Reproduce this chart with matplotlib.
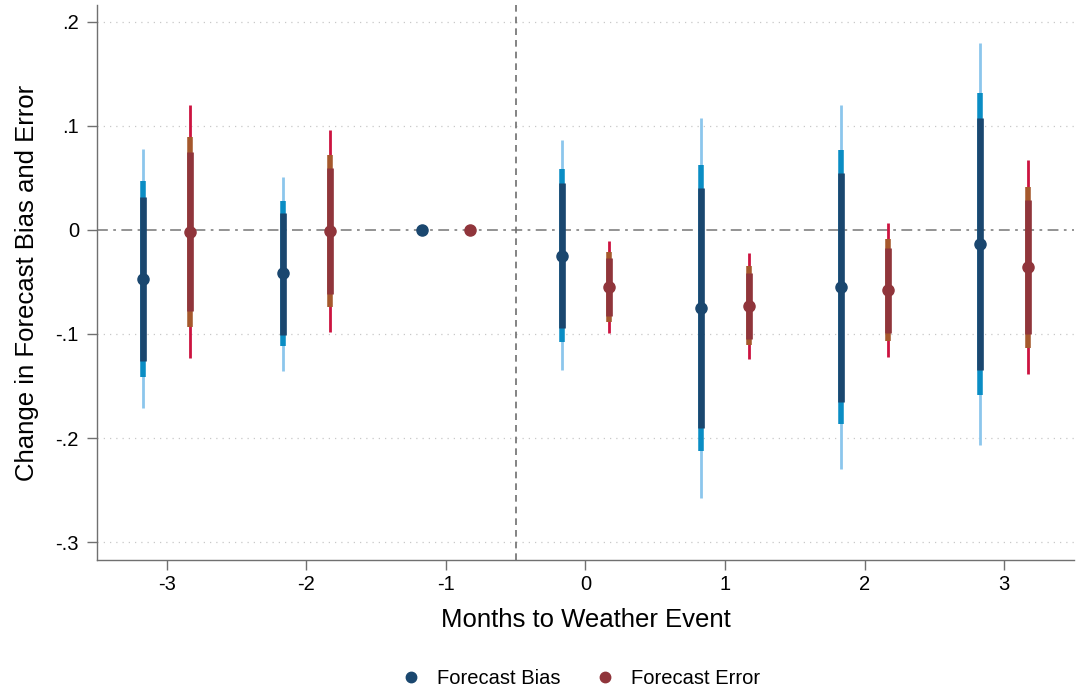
import matplotlib
matplotlib.use("Agg")
import matplotlib.pyplot as plt
from matplotlib.lines import Line2D
import numpy as np

plt.rcParams['font.family'] = ['Liberation Sans', 'DejaVu Sans']

# event time (months to weather event)
months = [-3, -2, -1, 0, 1, 2, 3]

# Forecast Bias: point estimate and 90 / 95 / 99 % bounds
bias_est = [-0.047, -0.0417, 0.0, -0.0247, -0.075, -0.0548, -0.0135]
bias_lo90 = [-0.1257, -0.1006, 0.0, -0.0946, -0.190, -0.165, -0.135]
bias_hi90 = [0.0314, 0.0167, 0.0, 0.0449, 0.040, 0.055, 0.1077]
bias_lo95 = [-0.141, -0.112, 0.0, -0.108, -0.2125, -0.187, -0.159]
bias_hi95 = [0.047, 0.0282, 0.0, 0.0587, 0.0625, 0.077, 0.132]
bias_lo99 = [-0.1715, -0.1356, 0.0, -0.135, -0.258, -0.230, -0.2067]
bias_hi99 = [0.0776, 0.0513, 0.0, 0.0865, 0.108, 0.120, 0.1795]

# Forecast Error
err_est = [-0.0016, -0.0006, 0.0, -0.0548, -0.073, -0.0577, -0.0356]
err_lo90 = [-0.078, -0.0619, 0.0, -0.0827, -0.105, -0.0987, -0.100]
err_hi90 = [0.075, 0.060, 0.0, -0.027, -0.041, -0.017, 0.0288]
err_lo95 = [-0.093, -0.0737, 0.0, -0.088, -0.111, -0.1064, -0.113]
err_hi95 = [0.0897, 0.072, 0.0, -0.0215, -0.0346, -0.0087, 0.0417]
err_lo99 = [-0.1234, -0.0978, 0.0, -0.0994, -0.1237, -0.1224, -0.138]
err_hi99 = [0.120, 0.096, 0.0, -0.0103, -0.0218, 0.007, 0.0673]

yticks = [0.2, 0.1, 0.0, -0.1, -0.2, -0.3]
ytick_labels = ['.2', '.1', '0', '-.1', '-.2', '-.3']

fig = plt.figure(figsize=(10.76, 6.92), dpi=100)
ax = fig.add_axes([0.0901, 0.19075, 0.908, 0.8020])

x = np.array(months, dtype=float)
off = 0.17

# reference lines
ax.axhline(0, color='#8a8a8a', lw=1.3, ls=(0, (6, 3, 1.5, 3)), zorder=1)
ax.axvline(-0.5, color='#6e6e6e', lw=1.2, ls=(0, (4, 3)), zorder=1)
for yv in [0.2, 0.1, -0.1, -0.2, -0.3]:
    ax.axhline(yv, color='#c8c8c8', lw=0.9, ls=(0, (1, 4)), zorder=0)

def draw(xs, est, lo90, hi90, lo95, hi95, lo99, hi99, c99, c95, c90):
    ax.vlines(xs, lo99, hi99, color=c99, lw=2.0, zorder=2)
    ax.vlines(xs, lo95, hi95, color=c95, lw=4.0, zorder=3)
    ax.vlines(xs, lo90, hi90, color=c90, lw=4.8, zorder=4)
    ax.plot(xs, est, 'o', color=c90, ms=8, zorder=5)

draw(x - off, bias_est, bias_lo90, bias_hi90, bias_lo95, bias_hi95,
     bias_lo99, bias_hi99, '#8cc6ec', '#0a8dc4', '#1a476f')
draw(x + off, err_est, err_lo90, err_hi90, err_lo95, err_hi95,
     err_lo99, err_hi99, '#cc1340', '#a5582c', '#90353b')

ax.set_xlim(-3.5, 3.5)
ax.set_ylim(-0.3173, 0.2163)
ax.set_xticks(months)
ax.set_xticklabels([str(m) for m in months])
ax.set_yticks(yticks)
ax.set_yticklabels(ytick_labels)

for s in ['top', 'right']:
    ax.spines[s].set_visible(False)
for s in ['left', 'bottom']:
    ax.spines[s].set_color('#707070')
    ax.spines[s].set_linewidth(1.0)
ax.tick_params(axis='both', colors='#707070', length=7, width=1.0,
               labelsize=14.5, labelcolor='black')
ax.tick_params(axis='x', pad=4)
ax.tick_params(axis='y', pad=6)

ax.set_xlabel('Months to Weather Event', fontsize=18.5, labelpad=10)
ax.set_ylabel('Change in Forecast Bias and Error', fontsize=18.5, labelpad=12)

handles = [Line2D([], [], marker='o', ls='none', color='#1a476f', ms=7.5),
           Line2D([], [], marker='o', ls='none', color='#90353b', ms=7.5)]
fig.legend(handles, ['Forecast Bias', 'Forecast Error'], loc='center',
           bbox_to_anchor=(0.535, 0.02), ncol=2, frameon=False, fontsize=14.5,
           handletextpad=0.3, columnspacing=1.2)

fig.savefig('out.png', dpi=100)
